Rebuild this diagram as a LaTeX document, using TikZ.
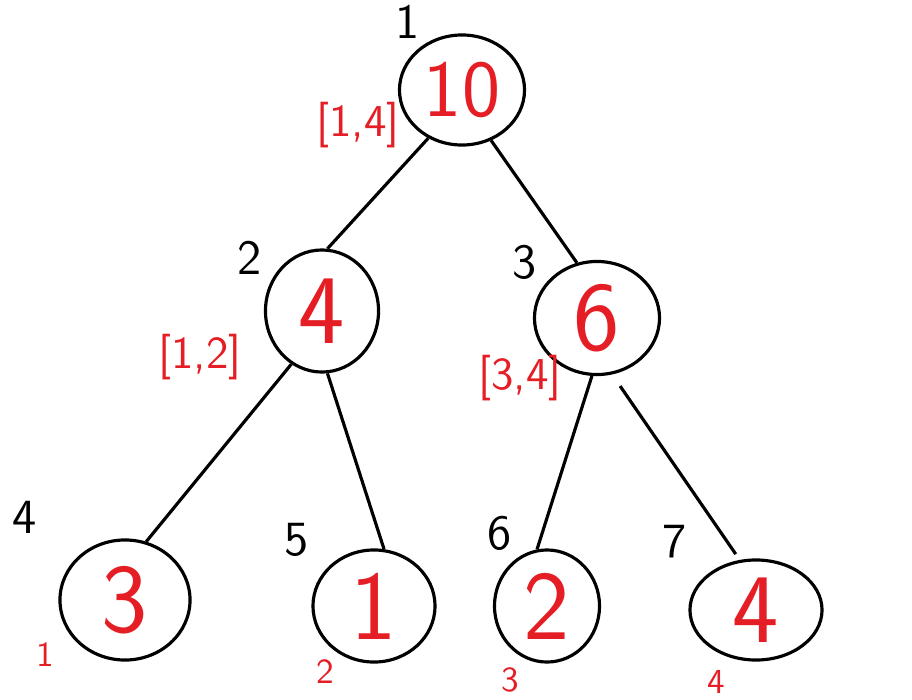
\documentclass[tikz,border=0pt]{standalone}
\usepackage{tikz}
\usetikzlibrary{shapes.geometric}
\definecolor{pen}{RGB}{228,30,36}

\begin{document}
\begin{tikzpicture}[x=0.01cm,y=-0.01cm,line width=0.9pt,
    seg/.style={draw,ellipse,inner sep=0pt,text=pen,font=\fontsize{28}{30}\selectfont\sffamily},
    idx/.style={font=\fontsize{14}{16}\selectfont\sffamily},
    rng/.style={text=pen,font=\fontsize{13}{15}\selectfont\sffamily},
    leafno/.style={text=pen,font=\fontsize{10}{12}\selectfont\sffamily},
    link/.style={shorten <=4pt,shorten >=2pt}]
    \useasboundingbox (0,0) rectangle (912,700);
    \node[seg,minimum width=1.25cm,minimum height=1.1cm,font=\fontsize{23}{26}\selectfont\sffamily] (r) at (462,90) {10};
    \node[seg,minimum width=1.13cm,minimum height=1.22cm] (a) at (322,311) {4};
    \node[seg,minimum width=1.25cm,minimum height=1.13cm] (b) at (597,318) {6};
    \node[seg,minimum width=1.3cm,minimum height=1.2cm] (aa) at (125,600) {3};
    \node[seg,minimum width=1.22cm,minimum height=1.12cm] (ab) at (374,606) {1};
    \node[seg,minimum width=1.05cm,minimum height=1.12cm] (ba) at (547,606) {2};
    \node[seg,minimum width=1.32cm,minimum height=1.0cm] (bb) at (756,610) {4};
    \draw[link] (r.235) -- (a.85) (r.300) -- (b.110)
    (a.240) -- (aa.70) (a.275) -- (ab.80)
    (b.265) -- (ba.100) (b.285) -- (bb.108);
    \node[idx] (i1) at (408,22) {1};
    \node[idx] (i2) at (250,258) {2};
    \node[idx] (i3) at (525,262) {3};
    \node[idx] (i4) at (25,517) {4};
    \node[idx] (i5) at (297,540) {5};
    \node[idx] (i6) at (500,533) {6};
    \node[idx] (i7) at (675,542) {7};
    \node[rng] (g1) at (358,125) {[1,4]};
    \node[rng] (g2) at (200,357) {[1,2]};
    \node[rng] (g3) at (520,378) {[3,4]};
    \node[leafno] (p1) at (45,655) {1};
    \node[leafno] (p2) at (325,672) {2};
    \node[leafno] (p3) at (510,680) {3};
    \node[leafno] (p4) at (716,682) {4};
\end{tikzpicture}
\end{document}
